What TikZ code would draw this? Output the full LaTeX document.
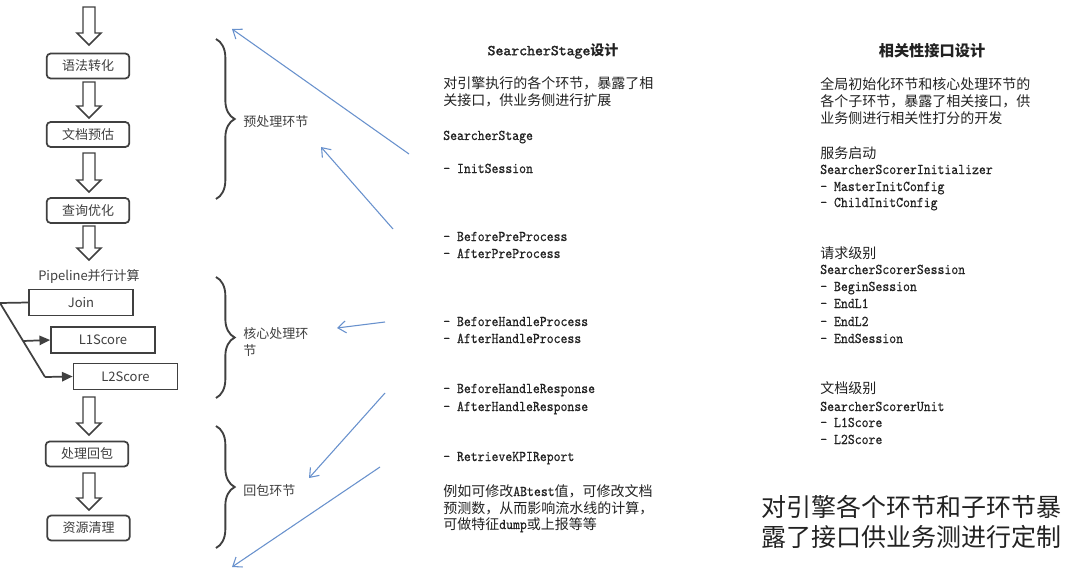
\documentclass[tikz,border=0pt]{standalone}
\usepackage{fontspec}
\setmainfont{Noto Sans CJK SC}
\newfontfamily\cjk{Noto Sans CJK SC}
\newfontfamily\mono[FakeBold=0.4,FakeStretch=0.88]{lmmono10-regular.otf}
\newfontfamily\monob[FakeBold=1.6]{lmmono10-regular.otf}
\usetikzlibrary{arrows.meta,decorations.pathreplacing,calc}
\definecolor{ink}{HTML}{404040}
\definecolor{txt}{HTML}{222222}
\definecolor{blu}{RGB}{104,145,205}
\newcommand\monotext[1]{{\mono\fontsize{11.2}{12}\selectfont #1}}
\newcommand\hollowarrow[3]{%
  \draw[harrow] (#1-6,#2) -- (#1+6,#2) -- (#1+6,#3-12) -- (#1+12,#3-12) -- (#1,#3)
    -- (#1-12,#3-12) -- (#1-6,#3-12) -- cycle;}
\begin{document}
\begin{tikzpicture}[x=0.75pt,y=-0.75pt,
  box/.style={draw=ink, line width=1.3pt, rounded corners=3pt, minimum width=62pt,
    minimum height=18.75pt, inner sep=0pt, font=\fontsize{9.75}{11}\selectfont, text=ink},
  sqbox/.style={draw=ink, line width=1.3pt, minimum width=78pt, minimum height=19.5pt,
    inner sep=0pt, font=\fontsize{9.75}{11}\selectfont, text=ink},
  harrow/.style={draw=ink, line width=1.1pt, fill=white, line join=miter},
  brc/.style={draw=ink, line width=1.4pt, decorate, decoration={brace, amplitude=14pt}},
  lbl/.style={anchor=base west, inner sep=0pt, font=\fontsize{9.75}{11}\selectfont, text=ink},
  cn/.style={anchor=base west, inner sep=0pt, font=\fontsize{10.5}{12}\selectfont, text=txt},
  mn/.style={anchor=base west, inner sep=0pt, font=\mono\fontsize{11.2}{12}\selectfont, text=txt},
  ttl/.style={inner sep=0pt, font=\bfseries\fontsize{10.5}{12}\selectfont, text=txt},
  bluarr/.style={draw=blu, line width=0.8pt, -{Straight Barb[length=6pt,width=9pt]}},
  branch/.style={draw=ink, line width=1.3pt},
  tipl/.style={-{Triangle[length=8pt,width=7pt]}}
]
\fill[white] (0,0) rectangle (1080,581);
\useasboundingbox (0,0) rectangle (1080,581);

% ---------- left flow ----------
\node[box] (b1) at (88,66) {语法转化};
\node[box] (b2) at (88,134.5) {文档预估};
\node[box] (b3) at (88,210.5) {查询优化};
\node[lbl, anchor=base] (pipe) at (89,280) {Pipeline并行计算};
\node[sqbox] (join) at (81,302.5) {Join};
\node[sqbox] (l1) at (103,340) {L1Score};
\node[sqbox] (l2) at (125.5,376.5) {L2Score};
\node[box] (b4) at (87,454) {处理回包};
\node[box] (b5) at (88.5,528) {资源清理};

\hollowarrow{89}{7}{45}
\hollowarrow{89}{82}{118}
\hollowarrow{89}{153}{192}
\hollowarrow{89}{226}{260}
\hollowarrow{89}{397}{435}
\hollowarrow{89}{473}{510}

\coordinate (src) at (0,303);
\coordinate (bend) at (45,377);
\coordinate (mid) at ($(src)!0.5135!(bend)$);
\draw[branch] (src) -- (join.west);
\draw[branch] (src) -- (bend);
\draw[branch, tipl] (bend) -- (l2.west);
\draw[branch, tipl] (mid) -- (l1.west);

% ---------- braces ----------
\draw[brc] (216,39) -- (216,199);
\draw[brc] (216,277) -- (216,398);
\draw[brc] (216,426) -- (216,548);
\node[lbl] (s1) at (243,127) {预处理环节};
\node[lbl] (s2a) at (243,338) {核心处理环};
\node[lbl] (s2b) at (243,355) {节};
\node[lbl] (s3) at (243,495) {回包环节};

% ---------- blue arrows ----------
\coordinate (t1) at (409,154); \coordinate (h1) at (232,29);
\coordinate (t2) at (393,229); \coordinate (h2) at (321,147);
\coordinate (t3) at (385,322); \coordinate (h3) at (337,328);
\coordinate (t4) at (385,393); \coordinate (h4) at (309,478);
\coordinate (t5) at (380,467); \coordinate (h5) at (232,567);
\draw[bluarr] (t1) -- (h1);
\draw[bluarr] (t2) -- (h2);
\draw[bluarr] (t3) -- (h3);
\draw[bluarr] (t4) -- (h4);
\draw[bluarr] (t5) -- (h5);

% ---------- middle column ----------
\node[ttl] (mt) at (553,51) {{\monob\fontsize{11.3}{13}\selectfont SearcherStage}设计};
\node[cn] (m1) at (443,89) {对引擎执行的各个环节，暴露了相};
\node[cn] (m2) at (443,106) {关接口，供业务侧进行扩展};
\node[mn] (m3) at (443,140) {SearcherStage};
\node[mn] (m4) at (443,173) {- InitSession};
\node[mn] (m5) at (443,241) {- BeforePreProcess};
\node[mn] (m6) at (443,258) {- AfterPreProcess};
\node[mn] (m7) at (443,326) {- BeforeHandleProcess};
\node[mn] (m8) at (443,343) {- AfterHandleProcess};
\node[mn] (m9) at (443,393) {- BeforeHandleResponse};
\node[mn] (m10) at (443,411) {- AfterHandleResponse};
\node[mn] (m11) at (443,461) {- RetrieveKPIReport};
\node[cn] (m12) at (443,496) {例如可修改\monotext{ABtest}值，可修改文档};
\node[cn] (m13) at (443,513) {预测数，从而影响流水线的计算，};
\node[cn] (m14) at (443,529) {可做特征\monotext{dump}或上报等等};

% ---------- right column ----------
\node[ttl, font=\bfseries\fontsize{11.4}{13}\selectfont] (rt) at (932,51) {相关性接口设计};
\node[cn] (r1) at (820,90) {全局初始化环节和核心处理环节的};
\node[cn] (r2) at (820,107) {各个子环节，暴露了相关接口，供};
\node[cn] (r3) at (820,123) {业务侧进行相关性打分的开发};
\node[cn] (r4) at (820,158) {服务启动};
\node[mn] (r5) at (820,174) {SearcherScorerInitializer};
\node[mn] (r6) at (820,191) {- MasterInitConfig};
\node[mn] (r7) at (820,207) {- ChildInitConfig};
\node[cn] (r8) at (820,258) {请求级别};
\node[mn] (r9) at (820,274) {SearcherScorerSession};
\node[mn] (r10) at (820,291) {- BeginSession};
\node[mn] (r11) at (820,308) {- EndL1};
\node[mn] (r12) at (820,326) {- EndL2};
\node[mn] (r13) at (820,343) {- EndSession};
\node[cn] (r14) at (820,393) {文档级别};
\node[mn] (r15) at (820,411) {SearcherScorerUnit};
\node[mn] (r16) at (820,427) {- L1Score};
\node[mn] (r17) at (820,444) {- L2Score};

\node[cn, font=\fontsize{18.75}{22}\selectfont] (big1) at (761,516.5) {对引擎各个环节和子环节暴};
\node[cn, font=\fontsize{18.75}{22}\selectfont] (big2) at (761,546.5) {露了接口供业务测进行定制};
\end{tikzpicture}
\end{document}
